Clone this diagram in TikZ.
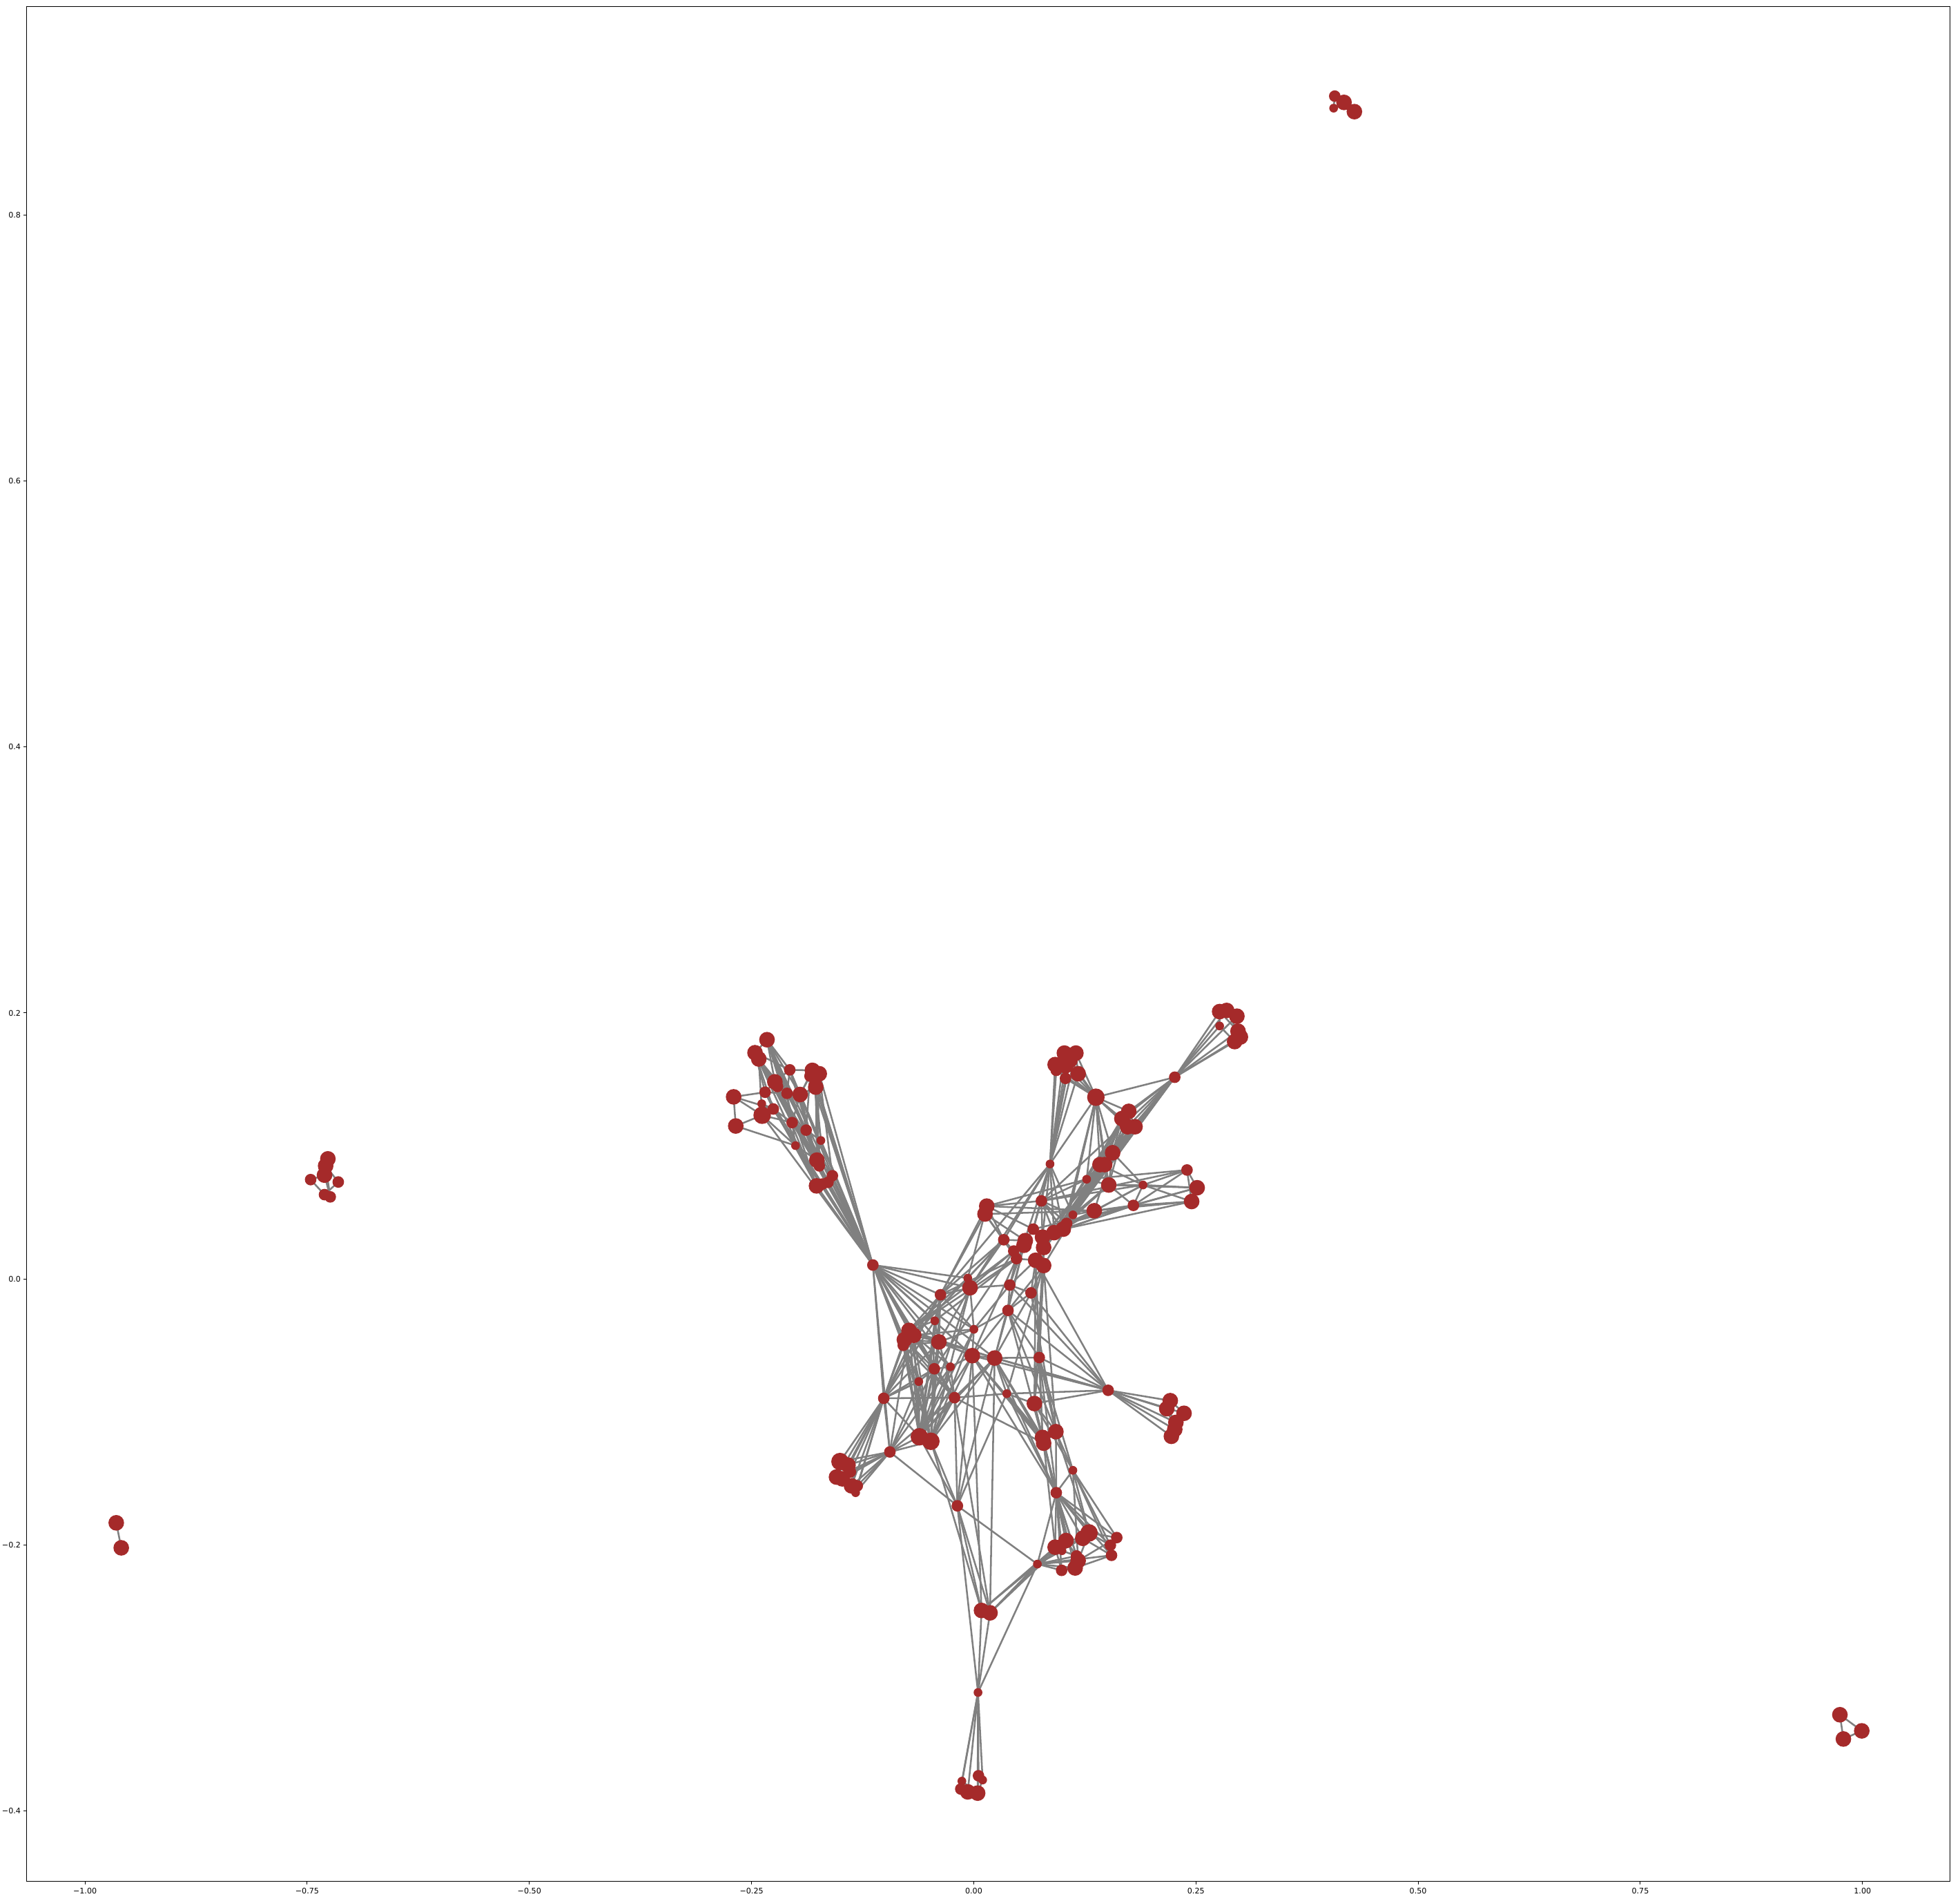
\documentclass[tikz,border=0pt]{standalone}
\usepackage{fontspec}
\setmainfont{DejaVu Sans}
\pgfdeclarelayer{bg}
\pgfsetlayers{bg,main}
\definecolor{nodebrown}{HTML}{A52A2A}
\definecolor{edgegray}{HTML}{808080}
\tikzset{
  nd/.style={circle,fill=nodebrown,draw=none,inner sep=0pt},
  ndX/.style={nd,minimum size=2.8mm},
  ndL/.style={nd,minimum size=2.5mm},
  ndM/.style={nd,minimum size=1.85mm},
  ndS/.style={nd,minimum size=1.4mm},
  lnk/.style={draw=edgegray,line width=0.8pt},
  frame/.style={draw=black,line width=0.3pt},
  tck/.style={draw=black,line width=0.3pt},
  tlab/.style={inner sep=0pt,font=\fontsize{3.5}{4}\selectfont}
}
\begin{document}
\begin{tikzpicture}[x=0.2mm,y=-0.2mm]
\useasboundingbox (0,0) rectangle (1568,1520);
% nodes
\foreach \n/\x/\y/\s in {
 a1/613.6/831.6/L, a2/604/842/L, a3/607/847/L, a4/631.8/855.7/M, a5/649.9/856.1/L, a6/655.4/858.8/L,
 a7/648/860.7/M, a8/619.9/865.3/L, a9/622/869/M, a10/652.6/869.5/L, a11/586.9/877.3/L, a12/612.1/873.6/M,
 a13/629.6/874.5/M, a14/640.1/875.4/L, a15/609.4/882.8/S, a16/618.6/887/M, a17/609.7/892/X, a18/588.6/900.6/L,
 a19/633.7/897.9/M, a20/644.9/903.9/M, a21/656.7/912.2/S, a22/636.4/916.3/S, a23/653.5/927.9/L, a24/655.4/932.5/M,
 a25/665.9/940.4/M, a26/662.4/945.7/M, a27/653.2/948.5/L, a28/658/947/M,
 H1/698.3/1011.8/M,
 b1/975.7/809.1/L, b2/981.3/808.2/L, b3/989.5/812.8/L, b4/975.7/820.6/S, b5/990.4/824.8/L, b6/992.3/829.4/L, b7/987.7/833.1/L,
 H2/939.8/861.6/M,
 c1/851.5/842.3/L, c2/860.7/842.3/L, c3/844.1/851.5/L, c4/845/856.1/M, c5/852.4/852.4/L, c6/852.4/862.5/M, c7/862.5/858.8/L, c8/856/848/L,
 bb/876.7/877.6/X,
 d1/903/888.9/L, d2/897.5/894.7/L, d3/902.1/901.2/L, d4/908/901.2/L,
 e1/890.1/922/L, e2/883.7/931.5/L, e3/880/931.5/L, f1/840/931/S, e4/869.3/943.2/S, e5/887/947.8/L, e6/914.4/947.8/S,
 g1/949.6/935.8/M, g2/957.7/950/L, g3/953.3/961/L, e7/906.7/964.1/M, e8/875.4/968.4/L, e9/858.3/971.7/S,
 m1/833.1/960.5/M, m2/853.3/978.5/M, m3/850.6/983.1/L, m4/843.2/985.9/L, m5/826.6/983.1/M, m6/834/989.5/L,
 m7/834.9/997.8/L, m8/820.2/992.3/L, m9/819.2/996/L, m10/803/991.6/M, m11/811/1000.6/M, m12/813.2/1006.7/M,
 m13/828.5/1008/L, m14/834.9/1012.2/L, m15/789.4/964.7/L, m16/788/971/L,
 n1/774.2/1022.3/S, n2/776/1030/L, n3/752.4/1035.6/M, n4/807.8/1027.8/M, n5/824.8/1034.1/M, n6/806.4/1048.1/M,
 n7/747.8/1056.4/S, n8/779.1/1063.2/S, n9/727.2/1064.1/L, n10/723.5/1071.5/L, n11/722.6/1076/M, n12/731/1068/L,
 n13/751.1/1073.3/L, n14/777.8/1084.3/L, n15/795.7/1086.2/L, n16/831.4/1085.8/M, n17/747.5/1094.8/M, n18/760.3/1093.2/S,
 n19/735/1105/S, n20/707/1118.4/M, n21/763.6/1117.9/M, n22/805.4/1114.7/S, n23/827.5/1122.6/L,
 H3/886.5/1112/M,
 r1/936.2/1120.3/L, r2/933.4/1126.7/L, r3/947.2/1130.4/L, r4/940.7/1137.7/L, r5/939.8/1143.3/L, r6/937.1/1148.8/L,
 l1/672/1169/X, l2/678.4/1171.8/L, l3/680.3/1177.3/M, l4/669.2/1181.4/L, l5/673.8/1182.8/L, l6/681.2/1188.4/L,
 l7/685.8/1188.4/M, l8/684.5/1193.9/S,
 p1/711.9/1161.3/M, q1/735.5/1149.2/X, q2/744.7/1152.8/X, s1/765.9/1204.4/M,
 t1/844.7/1145.1/L, t2/834/1149.7/L, t3/834.9/1154.3/L, t4/858.3/1176/S, t5/845/1193.9/M,
 u1/871.2/1226.1/X, u2/866.2/1230.4/L, u3/893.4/1229.8/M, u4/888.3/1235.9/M, u5/889.2/1244/M, u6/852.8/1232.2/L,
 u7/844.1/1237.5/L, u8/849.6/1240.3/S, u9/861.2/1244.5/M, u10/862.5/1248.3/L, u11/860.1/1254.1/L, u12/849.3/1256/M,
 v1/829.9/1251/S,
 w1/785.2/1288.1/L, w2/792/1290/L, x1/782.4/1353.7/S,
 y1/782.8/1420.3/M, y2/786.1/1423.7/S, y3/769.5/1424.6/S, y4/768.6/1430.9/M, y5/774.2/1433.2/L, y6/782.1/1434.2/L,
 i1/1067.8/76.9/M, i2/1075.2/81.9/L, i3/1066.9/86.5/S, i4/1083.5/89.3/L,
 j1/262.3/926.9/L, j2/260.5/932.5/L, j3/259.6/939.9/L, j4/248.5/943.5/M, j5/270.6/945.4/M, j6/259.6/955.5/M, j7/264.2/957.3/M,
 k1/93/1218/L, k2/97/1238/L,
 z1/1471.9/1371.5/L, z2/1489.4/1384.4/L, z3/1474.7/1390.9/L}
 {\node[nd\s] (\n) at (\x,\y) {};}
\begin{pgfonlayer}{bg}
\fill[white] (0,0) rectangle (1568,1520);
% axes frame
\draw[frame] (21.2,5) rectangle (1560,1505);
% x ticks
\foreach \v/\t in {-1/{−1.00},-0.75/{−0.75},-0.5/{−0.50},-0.25/{−0.25},0/{0.00},0.25/{0.25},0.5/{0.50},0.75/{0.75},1/{1.00}}{
  \coordinate (xt) at ({779+711*\v},1505);
  \draw[tck] (xt) -- ++(0,2.2);
  \node[tlab,anchor=north] (xl) at ({779+711*\v},1509.5) {\t};
}
% y ticks
\foreach \v/\t in {-0.4/{−0.4},-0.2/{−0.2},0/{0.0},0.2/{0.2},0.4/{0.4},0.6/{0.6},0.8/{0.8}}{
  \coordinate (yt) at (21.2,{1023-1064*\v});
  \draw[tck] (yt) -- ++(-2.2,0);
  \node[tlab,anchor=east] (yl) at (16.9,{1023-1064*\v}) {\t};
}
% fans from hubs
\foreach \b in {a1,a2,a3,a4,a5,a6,a7,a8,a9,a10,a12,a13,a14,a16,a17,a19,a20,a21,a22,a23,a24,a25,a26,a27,a28,n1,n2,n3,n7,n8,n9,n10,n11,n12,n13,n14,n15,n17,n18,n19,n20,n21,p1}
  {\draw[lnk] (H1.center) -- (\b.center);}
\foreach \b in {b1,b2,b3,b4,b5,b6,b7,bb,d1,d2,d3,d4,e1,e2,e3,m1,m2,m3,m4,m6,m7,m13,e9}
  {\draw[lnk] (H2.center) -- (\b.center);}
\foreach \b in {c1,c2,c3,c4,c5,c6,c7,c8,d1,d2,d3,e1,e2,e3,e4,e5,f1,m2,m3}
  {\draw[lnk] (bb.center) -- (\b.center);}
\foreach \b in {c1,c2,c3,c4,c5,c6,c7,c8,m1,m3,m4,m5,m6,m10,n2,n3,n4,e9}
  {\draw[lnk] (f1.center) -- (\b.center);}
\foreach \b in {e2,e3,e5,e6,e8,m2,m3,m4,m6,m7}
  {\draw[lnk] (e1.center) -- (\b.center);}
\foreach \b in {g1,g2,g3,e3,m1,m4,e8}
  {\draw[lnk] (e6.center) -- (\b.center);}
\foreach \b in {g1,g2,g3,e8,m2,m3,m4,m5,e6}
  {\draw[lnk] (e7.center) -- (\b.center);}
\foreach \b in {r1,r2,r3,r4,r5,r6,n4,n5,n6,n13,n14,n15,n16,n22,n23,m13}
  {\draw[lnk] (H3.center) -- (\b.center);}
\foreach \b in {l1,l2,l3,l4,l5,l6,l7,l8,p1,n9,n10,n11,n12,n17,n19,n13,n7,n3,n21,q1}
  {\draw[lnk] (n20.center) -- (\b.center);}
\foreach \b in {l1,l2,l3,l4,l5,l6,l7,l8,q1,q2,n17,n18,n19,n21,n9,s1}
  {\draw[lnk] (p1.center) -- (\b.center);}
\foreach \q in {q1,q2}{\foreach \b in {n9,n10,n11,n12,n13,n17,n18,n19,n21,n7,n14,n15,n8,n3,n2,s1}
  {\draw[lnk] (\q.center) -- (\b.center);}}
\foreach \b in {n21,n22,n14,n15,w1,w2,x1,v1}
  {\draw[lnk] (s1.center) -- (\b.center);}
\foreach \b in {y1,y2,y3,y4,y5,y6,w1,w2,v1}
  {\draw[lnk] (x1.center) -- (\b.center);}
\foreach \b in {u1,u2,u3,u4,u5,u6,u7,u8,u9,u10,u11,u12,v1,n23,n16,n22}
  {\draw[lnk] (t5.center) -- (\b.center);}
\foreach \b in {u1,u2,u5,u6,u7,u8,u9,u10,u11,u12}
  {\draw[lnk] (v1.center) -- (\b.center);}
% pairwise edges
\foreach \a/\b in {
 a1/a4,a1/a8,a1/a13,a1/a14,a1/a19,a1/a20,a1/a23,a1/a27,a2/a4,a2/a12,a2/a16,a2/a19,a2/a23,a2/a27,a3/a8,a3/a13,
 a3/a24,a3/a17,a4/a5,a4/a8,a4/a13,a4/a14,a4/a24,a5/a10,a5/a14,a5/a21,a6/a10,a6/a23,a6/a25,a7/a14,a7/a20,a8/a12,
 a8/a13,a8/a19,a8/a27,a10/a14,a10/a21,a10/a23,a10/a24,a11/a12,a11/a18,a11/a17,a11/a16,a12/a13,a12/a16,a12/a27,
 a13/a14,a13/a19,a13/a20,a14/a20,a14/a19,a14/a23,a15/a16,a16/a17,a16/a19,a16/a22,a17/a18,a17/a22,a18/a22,a19/a20,
 a19/a22,a20/a21,a20/a23,a21/a23,a22/a23,a22/a27,a23/a25,a24/a26,a25/a26,a5/a6,a2/a3,a1/a2,a9/a8,a9/a19,a15/a17,
 a7/a10,a17/a19,a1/a24,a2/a24,a3/a25,a4/a25,a8/a26,
 b1/b2,b2/b3,b1/b4,b3/b5,b5/b6,b6/b7,b4/b7,b1/b5,b2/b6,
 c1/c2,c1/c3,c1/c5,c2/c7,c3/c4,c4/c5,c5/c6,c6/c7,c2/c5,c3/c6,c8/c1,c8/c7,
 d1/d2,d1/d3,d1/d4,d2/d3,d3/d4,d1/e1,d2/e1,d3/e1,d4/e1,d1/m2,d2/m3,d3/m4,d4/m6,d1/m7,d2/m13,d3/m14,d4/m2,d2/e2,
 d3/e3,d1/e5,d4/m3,
 e2/e3,e2/e5,e3/e4,e3/e9,e4/e5,e4/m1,e5/e9,e5/m2,e5/e6,e5/e7,e2/m4,
 g1/g2,g1/g3,g2/g3,g1/m1,g2/m2,g3/m3,g2/e5,g3/e8,g1/e4,
 e8/m2,e8/m3,e8/m4,e8/e9,e9/m2,e9/m3,e9/m1,
 m1/m2,m1/m3,m1/m4,m1/m5,m1/m6,m2/m3,m2/m4,m3/m4,m3/m6,m4/m6,m5/m6,m5/m8,m6/m7,m7/m13,m7/m14,m8/m9,m8/m10,
 m9/m11,m10/m11,m11/m12,m12/m13,m13/m14,m6/m14,m4/m7,m15/m16,m15/m10,m16/m10,m16/m8,m15/m5,m15/m1,m16/m12,
 m15/e4,m15/e8,m16/e8,m15/n3,m16/n3,m15/n1,
 m10/n1,m10/n2,m10/n3,m11/n2,m12/n3,m12/n4,m13/n4,m13/n5,m14/n5,m14/n6,m14/n16,m9/n6,m8/n4,m7/n16,m13/n16,
 m12/n7,m11/n9,m12/n9,m10/n12,m14/n22,m13/n23,m7/n23,m12/n14,m9/n15,m11/n17,
 n1/n2,n2/n3,n2/n4,n3/n7,n3/n9,n3/n12,n3/n13,n4/n5,n4/n6,n5/n6,n6/n8,n6/n14,n6/n15,n7/n9,n7/n13,n8/n13,n8/n14,
 n9/n10,n9/n11,n9/n12,n10/n11,n10/n17,n11/n19,n12/n13,n13/n14,n13/n17,n14/n15,n14/n18,n15/n16,n15/n21,n15/n22,
 n17/n18,n17/n19,n18/n21,n19/n20,n21/n22,n22/n23,n16/n23,n9/n14,n9/n15,n10/n13,n12/n8,n2/n8,n4/n8,n5/n15,
 n6/n16,n3/n8,n11/n13,n9/n17,n12/n17,n9/n21,n10/n21,n11/n21,n13/n21,n9/n18,n1/n9,n1/n12,n2/n13,n17/n21,
 r1/r2,r1/r3,r3/r4,r2/r4,r4/r5,r5/r6,r3/r6,r2/r5,
 l1/l2,l1/l4,l2/l3,l4/l5,l5/l6,l6/l7,l7/l8,l3/l7,l2/l5,l1/l3,l4/l6,
 q1/q2,
 y1/y2,y3/y4,y4/y5,y5/y6,y3/y5,y3/y6,y1/y6,y2/y6,y4/y6,
 w1/w2,w1/q2,w2/n21,w1/n14,w2/n15,w1/v1,w2/v1,w2/u6,w2/u7,w1/u7,
 t1/t2,t1/t3,t2/t3,t1/t4,t1/t5,t2/t5,t3/t5,t4/t5,t1/u1,t2/u6,t3/u7,t4/u1,t4/u3,t4/u4,t4/u5,t4/u10,t4/n23,t4/n16,
 n15/t2,n15/t3,n14/t2,n14/t3,n16/t1,n16/t2,n23/t1,n23/t2,n23/t3,n22/t2,n6/t1,n6/t3,m14/t1,m13/t2,n5/t1,
 n21/t3,n22/t3,n15/t5,n14/t5,
 u1/u2,u1/u3,u2/u6,u6/u7,u7/u8,u8/u9,u9/u10,u10/u11,u11/u12,u12/u7,u3/u4,u4/u5,u1/u4,u2/u5,u1/u10,u6/u9,u3/u10,u5/u11,
 i1/i2,i1/i3,i2/i3,i2/i4,
 j1/j2,j2/j3,j3/j4,j4/j6,j5/j6,j5/j2,j3/j7,j6/j7,j1/j3,j2/j7,
 k1/k2,
 z1/z2,z1/z3,z2/z3}
 {\draw[lnk] (\a.center) -- (\b.center);}
\end{pgfonlayer}
\end{tikzpicture}
\end{document}
